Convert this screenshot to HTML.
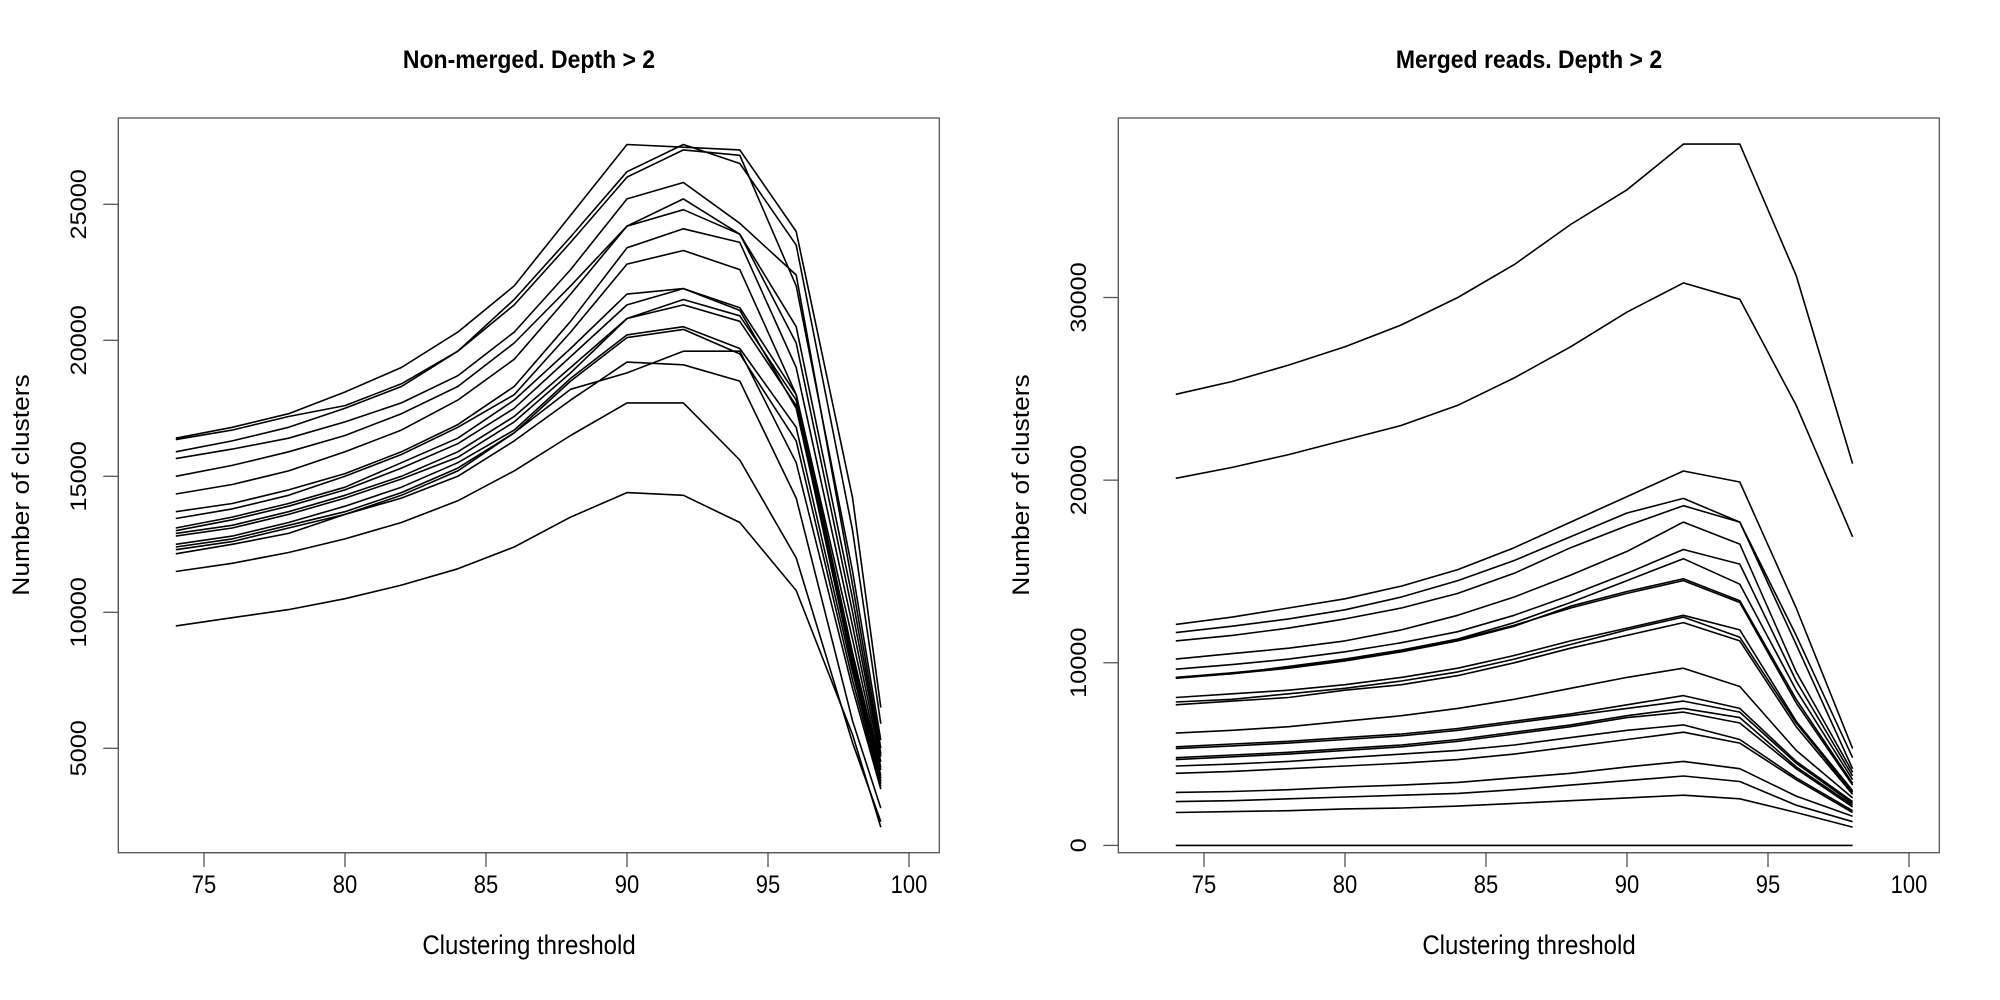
<!DOCTYPE html>
<html><head><meta charset="utf-8"><style>
html,body{margin:0;padding:0;background:#fff;}
svg{display:block;font-family:"Liberation Sans",sans-serif;}
</style></head><body>
<svg id="chart" width="2000" height="1000" viewBox="0 0 2000 1000">
<rect width="2000" height="1000" fill="#fff"/>
</svg>
<script>
const leftX = [74,76,78,80,82,84,86,88,90,92,94,96,98,99];
const leftSeries = [
[16400,16800,17300,18100,19000,20300,22000,24600,27200,27100,27000,24000,14200,6500],
[16350,16700,17200,17600,18400,19600,21500,23800,26200,27200,26500,23500,13000,5900],
[15900,16300,16800,17500,18300,19600,21300,23600,26000,27000,26800,22000,11500,5300],
[15650,16000,16400,17000,17700,18700,20300,22600,25200,25800,24300,22400,11000,5000],
[15000,15400,15900,16500,17300,18300,19900,22000,24200,25200,23900,20500,10500,4800],
[14350,14700,15200,15900,16700,17800,19300,21700,24200,24800,23900,19900,10000,4700],
[13700,14000,14500,15100,15900,16900,18300,20700,23400,24100,23600,19000,9500,4500],
[13450,13800,14300,15000,15800,16800,18000,20300,22800,23300,22600,18000,9000,4300],
[13100,13500,14000,14600,15500,16400,17800,19700,21700,21900,21200,18000,8500,4200],
[13000,13400,13900,14500,15300,16200,17500,19400,21300,21900,21100,17500,8300,4000],
[12900,13200,13700,14300,15000,15900,17200,19000,20800,21500,20900,17800,8200,3900],
[12800,13100,13600,14200,14900,15700,17000,18800,20800,21300,20700,17600,8000,3800],
[12500,12800,13300,13900,14600,15500,16700,18600,20200,20500,19700,16800,7800,3700],
[12400,12700,13200,13700,14400,15300,16600,18500,20100,20400,19500,16300,7500,3600],
[12150,12500,12900,13600,14300,15200,16600,18200,18800,19600,19600,15500,7200,3500],
[12300,12600,13100,13600,14200,15000,16300,17800,19200,19100,18500,14200,6000,2800],
[11500,11800,12200,12700,13300,14100,15200,16500,17700,17700,15600,12000,5200,2300],
[9500,9800,10100,10500,11000,11600,12400,13500,14400,14300,13300,10800,5500,2100]
];
const leftYTicks = [5000,10000,15000,20000,25000];
const rightX = [74,76,78,80,82,84,86,88,90,92,94,96,98];
const rightSeries = [
[24700,25400,26300,27300,28500,30000,31800,34000,35900,38400,38400,31200,20900],
[20100,20700,21400,22200,23000,24100,25600,27300,29200,30800,29900,24100,16900],
[12100,12500,13000,13500,14200,15100,16300,17700,19100,20500,19900,13000,5300],
[11650,12000,12400,12900,13600,14500,15600,16900,18200,19000,17700,11500,4800],
[11200,11500,11900,12400,13000,13800,14900,16300,17500,18600,17700,11000,4200],
[10200,10500,10800,11200,11800,12600,13600,14800,16100,17700,16500,9500,4000],
[9650,9900,10200,10600,11100,11700,12600,13700,14900,16200,15400,9000,3800],
[9200,9400,9800,10200,10700,11300,12200,13300,14500,15700,14300,8500,3600],
[9150,9400,9700,10100,10600,11200,12000,13100,13900,14600,13400,8000,3400],
[9200,9450,9750,10150,10650,11250,12050,13000,13800,14500,13300,7800,3300],
[8100,8300,8500,8800,9200,9700,10400,11200,11900,12600,11800,6800,3000],
[7850,8000,8300,8600,9000,9500,10200,11000,11800,12500,11400,6700,2900],
[7700,7900,8100,8500,8800,9300,10000,10800,11500,12200,11200,6500,2800],
[6150,6300,6500,6800,7100,7500,8000,8600,9200,9700,8700,5200,2600],
[5400,5550,5700,5900,6100,6400,6800,7200,7700,8200,7500,4600,2400],
[5300,5450,5600,5800,6000,6300,6700,7100,7500,7900,7300,4500,2300],
[4800,4950,5100,5300,5500,5800,6200,6600,7100,7500,7000,4300,2200],
[4700,4850,5000,5200,5400,5700,6100,6500,7000,7300,6700,4200,2100],
[4350,4450,4600,4800,5000,5200,5500,5900,6300,6600,5800,3700,1900],
[3950,4050,4200,4350,4500,4700,5000,5400,5800,6200,5600,3600,1800],
[2900,2950,3050,3200,3300,3450,3700,3950,4300,4600,4200,2700,1600],
[2400,2450,2550,2650,2750,2850,3050,3300,3550,3800,3500,2200,1300],
[1800,1850,1900,2000,2050,2150,2300,2450,2600,2750,2550,1800,1000],
[0,0,0,0,0,0,0,0,0,0,0,0,0]
];
const rightYTicks = [0,10000,20000,30000];
const xTicks = [75,80,85,90,95,100];

const NS = "http://www.w3.org/2000/svg";
const svg = document.getElementById('chart');
function mk(tag, attrs, parent){
  const e = document.createElementNS(NS, tag);
  for (const k in attrs) e.setAttribute(k, attrs[k]);
  (parent||svg).appendChild(e);
  return e;
}
const BL = 118.3, BR = 939.3, BT = 118, BB = 852.7;
function panel(off, xs, series, yTicks, yFn, title, key){
  const g = mk('g', {});
  
  
  const xFn = v => off + 204 + (v - 75) * 28.2;
  const box = mk('rect', {x: off+BL, y: BT, width: BR-BL, height: BB-BT, fill: 'none', stroke: '#555', 'stroke-width': 1.3}, g);
  
  
  series.forEach((s, i) => {
    const pts = s.map((v, j) => xFn(xs[j]).toFixed(1) + ',' + yFn(v).toFixed(1)).join(' ');
    const pl = mk('polyline', {points: pts, fill: 'none', stroke: '#000', 'stroke-width': 1.6, 'stroke-linejoin': 'round'}, g);
    
    
  });
  xTicks.forEach(t => {
    const x = xFn(t);
    const tk = mk('line', {x1: x, x2: x, y1: BB, y2: 867, stroke: '#555', 'stroke-width': 1.3}, g);
    
    
    const tx = mk('text', {x: 0, y: 0, 'font-size': 22, 'text-anchor': 'middle', transform: 'translate(' + x + ',893) scale(1,1.15)'}, g);
    tx.textContent = t;
    
    
  });
  const xa = mk('line', {x1: xFn(75), x2: xFn(100), y1: BB, y2: BB, stroke: '#555', 'stroke-width': 1.3}, g);
  
  
  const yMin = yFn(yTicks[0]), yMax = yFn(yTicks[yTicks.length - 1]);
  const ya = mk('line', {x1: off + BL, x2: off + BL, y1: yMin, y2: yMax, stroke: '#555', 'stroke-width': 1.3}, g);
  
  
  yTicks.forEach(t => {
    const y = yFn(t);
    const tk = mk('line', {x1: off + 103.3, x2: off + BL, y1: y, y2: y, stroke: '#555', 'stroke-width': 1.3}, g);
    
    
    const tx = mk('text', {x: 0, y: 0, 'font-size': 22, 'text-anchor': 'middle', transform: 'translate(' + (off + 86) + ',' + y + ') rotate(-90) scale(1.15,1)'}, g);
    tx.textContent = t;
    
    
  });
  const xt = mk('text', {x: 0, y: 0, 'font-size': 24, 'text-anchor': 'middle', transform: 'translate(' + (off + 529) + ',954) scale(1,1.1)'}, g);
  xt.textContent = 'Clustering threshold';
  
  
  const yt = mk('text', {x: 0, y: 0, 'font-size': 24, 'text-anchor': 'middle', transform: 'translate(' + (off + 29) + ',485) rotate(-90) scale(1.1,1)'}, g);
  yt.textContent = 'Number of clusters';
  
  
  const tt = mk('text', {x: 0, y: 0, 'font-size': 23, 'font-weight': 'bold', 'text-anchor': 'middle', transform: 'translate(' + (off + 529) + ',68) scale(1,1.1)'}, g);
  tt.textContent = title;
  
  
}
panel(0, leftX, leftSeries, leftYTicks, v => 204.3 + (25000 - v) * 0.0272, 'Non-merged. Depth > 2', 'non-merged');
panel(1000, rightX, rightSeries, rightYTicks, v => 845.4 - v * 0.018263, 'Merged reads. Depth > 2', 'merged');
</script>
</body></html>
